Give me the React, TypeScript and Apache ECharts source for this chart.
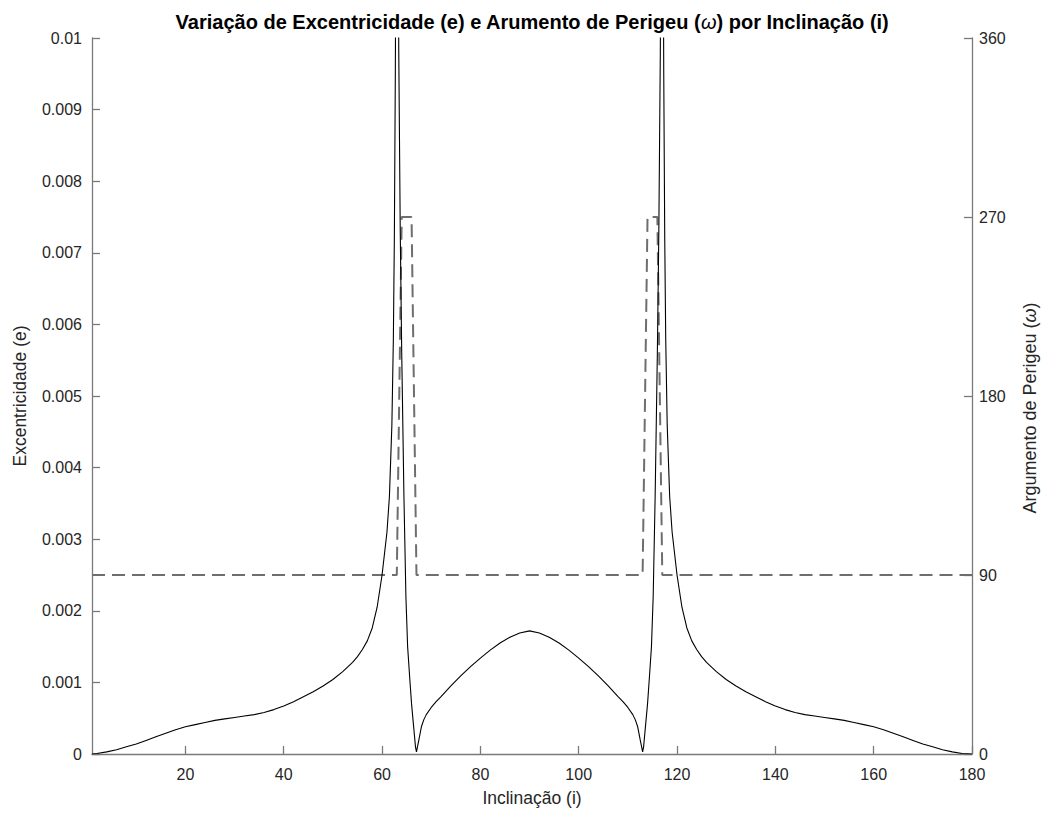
import React, { useEffect, useRef } from 'react';
import * as echarts from 'echarts';

// Inclination (deg) samples for the eccentricity curve
const eccIncl = [
  1, 2, 4, 6, 8, 10, 12, 14, 16, 18, 20, 22, 24, 26, 28, 30, 32, 34, 36, 38, 40, 42, 44, 46, 48, 50, 52, 54, 55, 56, 57, 58, 59,
  60, 60.5, 61, 61.5, 62, 62.3, 62.5, 62.7, 62.85, 63.05, 63.25, 63.4, 63.7, 64, 64.45, 64.85, 65.2, 65.66, 66, 66.4, 66.8, 67,
  67.2, 67.5, 68, 68.5, 69, 70, 71, 72, 74, 76, 78, 80, 82, 84, 86, 88, 90,
  92, 94, 96, 98, 100, 102, 104, 106, 108, 109, 110, 111, 111.5, 112, 112.5, 112.8, 113,
  113.2, 113.6, 114, 114.34, 114.8, 115.15, 115.55, 116, 116.3, 116.6, 116.75, 116.95, 117.15, 117.3, 117.5, 117.7, 118, 118.5, 119, 119.5, 120,
  121, 122, 123, 124, 125, 126, 128, 130, 132, 134, 136, 138, 140, 142, 144, 146, 148, 150, 152, 154, 156, 158, 160, 162, 164, 166, 168, 170, 172, 174, 176, 178, 180,
];
// Eccentricity values
const eccValues = [
  0, 0.000008, 0.00003, 0.00006, 0.0001, 0.00014, 0.00019, 0.00024, 0.00029, 0.00034, 0.00038, 0.00041, 0.00044, 0.00047, 0.00049, 0.00051, 0.00053, 0.00055, 0.00058, 0.00062, 0.00067, 0.00073, 0.0008, 0.00087, 0.00095, 0.00104, 0.00115, 0.00128, 0.00136, 0.00146, 0.00158, 0.00176, 0.00205,
  0.0025, 0.0028, 0.0031, 0.0036, 0.0046, 0.0058, 0.0072, 0.0095, 0.012, 0.02, 0.012, 0.0098, 0.0073, 0.0056, 0.0036, 0.0022, 0.0015, 0.00103, 0.0007, 0.0004, 0.0001, 0.00003,
  0.0001, 0.0002, 0.00038, 0.00048, 0.00055, 0.00065, 0.00073, 0.0008, 0.00095, 0.00109, 0.00122, 0.00134, 0.00145, 0.00155, 0.00163, 0.00169, 0.00172,
  0.00169, 0.00163, 0.00155, 0.00145, 0.00134, 0.00122, 0.00109, 0.00095, 0.0008, 0.00073, 0.00065, 0.00055, 0.00048, 0.00038, 0.0002, 0.0001, 0.00003,
  0.0001, 0.0004, 0.0007, 0.00103, 0.0015, 0.0022, 0.0036, 0.0056, 0.0073, 0.0098, 0.012, 0.02, 0.012, 0.0095, 0.0072, 0.0058, 0.0046, 0.0036, 0.0031, 0.0028, 0.0025,
  0.00205, 0.00176, 0.00158, 0.00146, 0.00136, 0.00128, 0.00115, 0.00104, 0.00095, 0.00087, 0.0008, 0.00073, 0.00067, 0.00062, 0.00058, 0.00055, 0.00053, 0.00051, 0.00049, 0.00047, 0.00044, 0.00041, 0.00038, 0.00034, 0.00029, 0.00024, 0.00019, 0.00014, 0.0001, 0.00006, 0.00003, 0.000008, 0,
];
// Argument of perigee (deg)
const omegaIncl = [1, 63, 64, 66, 67, 113, 114, 116, 117, 180];
const omegaValues = [90, 90, 270, 270, 90, 90, 270, 270, 90, 90];
const xTicks = [20, 40, 60, 80, 100, 120, 140, 160, 180];

const FONT = '"Liberation Sans", Arial, Helvetica, sans-serif';
const TXT = '#262626';
const AX = '#7a7a7a';

export default function App() {
  const ref = useRef<HTMLDivElement>(null);
  useEffect(() => {
    if (!ref.current) return;
    const chart = echarts.init(ref.current, undefined, { renderer: 'svg' });
    const axisCommon = {
      axisLine: { show: true, lineStyle: { color: AX, width: 1.3 } },
      axisTick: { show: true, inside: true, length: 8, lineStyle: { color: AX, width: 1.3 } },
      splitLine: { show: false },
    };
    chart.setOption({
      animation: false,
      backgroundColor: '#fff',
      grid: { left: 92, right: 74, top: 38, bottom: 61, containLabel: false },
      xAxis: {
        type: 'value',
        min: 1,
        max: 180,
        ...axisCommon,
        axisTick: { ...axisCommon.axisTick, customValues: xTicks },
        axisLabel: { customValues: xTicks, color: TXT, fontSize: 16, fontFamily: FONT, margin: 12 },
      },
      yAxis: [
        {
          type: 'value',
          position: 'left',
          min: 0,
          max: 0.01,
          interval: 0.001,
          ...axisCommon,
          axisLabel: {
            color: TXT,
            fontSize: 16,
            fontFamily: FONT,
            margin: 10,
            formatter: (v: number) => String(Number(v.toFixed(3))),
          },
        },
        {
          type: 'value',
          position: 'right',
          min: 0,
          max: 360,
          interval: 90,
          ...axisCommon,
          axisLabel: { color: TXT, fontSize: 16, fontFamily: FONT, margin: 7 },
        },
      ],
      series: [
        {
          type: 'line',
          yAxisIndex: 1,
          data: omegaIncl.map((x, i) => [x, omegaValues[i]]),
          showSymbol: false,
          lineStyle: { color: '#6e6e6e', width: 2, type: [13, 7] },
          clip: true,
        },
        {
          type: 'line',
          yAxisIndex: 0,
          data: eccIncl.map((x, i) => [x, eccValues[i]]),
          showSymbol: false,
          lineStyle: { color: '#000', width: 1.1 },
          clip: true,
        },
      ],
      graphic: [
        {
          type: 'text',
          x: 532,
          y: 22,
          style: {
            text: 'Variação de Excentricidade (e) e Arumento de Perigeu ({w|ω}) por Inclinação (i)',
            font: `bold 20px ${FONT}`,
            fill: '#000',
            textAlign: 'center',
            textVerticalAlign: 'middle',
            rich: { w: { fontStyle: 'italic', fontWeight: 'normal', fontSize: 20, fontFamily: FONT, fill: '#000' } },
          },
        },
        {
          type: 'text',
          x: 532,
          y: 798,
          style: {
            text: 'Inclinação (i)',
            font: `17.5px ${FONT}`,
            fill: TXT,
            textAlign: 'center',
            textVerticalAlign: 'middle',
          },
        },
        {
          type: 'text',
          x: 20,
          y: 396,
          rotation: Math.PI / 2,
          style: {
            text: 'Excentricidade (e)',
            font: `17.5px ${FONT}`,
            fill: TXT,
            textAlign: 'center',
            textVerticalAlign: 'middle',
          },
        },
        {
          type: 'text',
          x: 1030,
          y: 408,
          rotation: Math.PI / 2,
          style: {
            text: 'Argumento de Perigeu ({w|ω})',
            font: `18px ${FONT}`,
            fill: TXT,
            textAlign: 'center',
            textVerticalAlign: 'middle',
            rich: { w: { fontStyle: 'italic', fontSize: 18, fontFamily: FONT, fill: TXT } },
          },
        },
      ],
    });
    return () => chart.dispose();
  }, []);
  return (
    <div
      ref={ref}
      style={{ position: 'fixed', left: 0, top: 0, width: 1046, height: 815, background: '#fff' }}
    />
  );
}
